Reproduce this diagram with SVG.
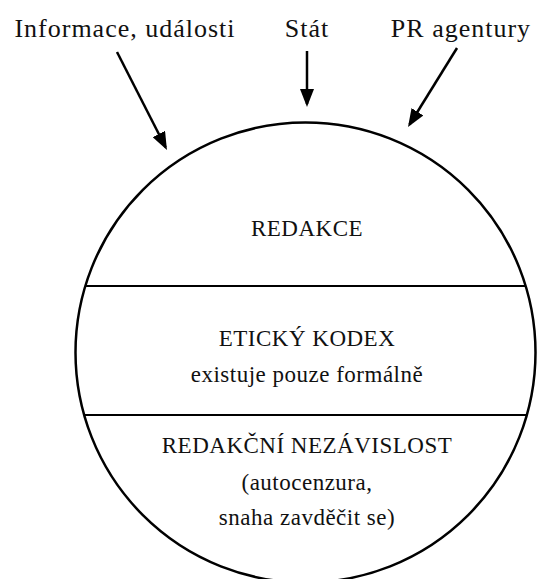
<svg xmlns="http://www.w3.org/2000/svg" width="538" height="579" viewBox="0 0 538 579">
<style>
.lbl{font-family:"Liberation Serif","Times New Roman",serif;font-size:26px;letter-spacing:1px;fill:#111;text-anchor:middle}
.in{font-family:"Liberation Serif","Times New Roman",serif;font-size:23px;letter-spacing:0.5px;fill:#111;text-anchor:middle}
.edge{stroke:#000;stroke-width:2.5;fill:none;marker-end:url(#ah)}
.shape{stroke:#000;stroke-width:2.5;fill:#fff}
.div{stroke:#000;stroke-width:2}
</style>
<defs>
<marker id="ah" markerUnits="userSpaceOnUse" markerWidth="18" markerHeight="14" refX="15" refY="7" orient="auto">
<path d="M0,0 L18,7 L0,14 z" fill="#000"/>
</marker>
</defs>
<g id="sources">
<text class="lbl" x="125" y="37">Informace, události</text>
<text class="lbl" x="307" y="37">Stát</text>
<text class="lbl" x="461" y="37">PR agentury</text>
</g>
<g id="redakce">
<circle class="shape" cx="305.5" cy="352.5" r="230"/>
<line class="div" x1="85.3" y1="286" x2="525.7" y2="286"/>
<line class="div" x1="84.2" y1="415" x2="526.8" y2="415"/>
<text class="in" x="307" y="236">REDAKCE</text>
</g>
<g id="eticky-kodex">
<text class="in" x="307" y="346">ETICKÝ KODEX</text>
<text class="in" x="307" y="382">existuje pouze formálně</text>
</g>
<g id="redakcni-nezavislost">
<text class="in" x="307" y="453">REDAKČNÍ NEZÁVISLOST</text>
<text class="in" x="307" y="490">(autocenzura,</text>
<text class="in" x="307" y="525">snaha zavděčit se)</text>
</g>
<g id="connectors">
<line class="edge" x1="117" y1="52" x2="165.6" y2="147.3"/>
<line class="edge" x1="307" y1="51" x2="307" y2="104"/>
<line class="edge" x1="457" y1="48" x2="409.6" y2="124.5"/>
</g>
</svg>
